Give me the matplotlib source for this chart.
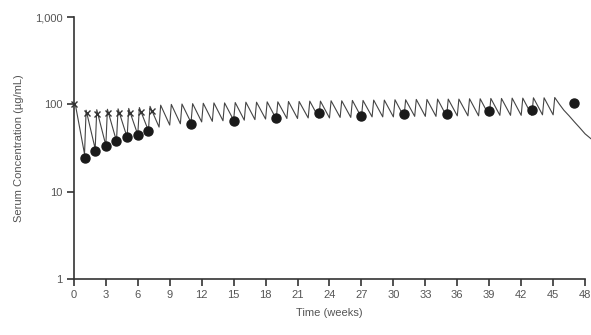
import matplotlib
matplotlib.use("Agg")
import matplotlib.pyplot as plt
from matplotlib.ticker import FixedLocator, NullLocator

# ---- data ----
# simulated curve: trough just before each weekly dose (weeks 1..45)
trough_weeks = list(range(1, 46))
trough_vals = [27, 31, 34, 38, 42, 45, 50,
               55, 58, 60, 62, 63, 64, 65, 66, 66, 67, 68, 68, 69,
               69, 70, 70, 70, 71, 71, 71, 72, 72, 72, 72, 73, 73, 73,
               73, 74, 74, 74, 74, 75, 75, 75, 75, 76, 76]
# simulated peak shortly after each dose (weeks 0..45)
peak_weeks = [w + 0.15 for w in range(0, 46)]
peak_vals = [98, 86, 87, 88, 89, 90, 92, 95,
             98, 100, 101, 102, 103, 104, 104, 105, 106, 106, 107, 107, 108,
             108, 109, 109, 110, 110, 111, 111, 112, 112, 113, 113, 114, 114,
             115, 115, 115, 116, 116, 117, 117, 118, 118, 119, 119, 120]
# wash-out after the last dose
tail_weeks = [45.6, 46.0, 46.5, 47.0, 47.5, 48.0, 48.6]
tail_vals = [100, 86, 74, 63, 54, 46, 40]

# observed troughs (filled circles)
obs_weeks = [1, 2, 3, 4, 5, 6, 7, 11, 15, 19, 23, 27, 31, 35, 39, 43, 47]
obs_vals = [24.5, 29, 33, 38, 42, 44.5, 49, 59, 64, 70, 80, 73, 77, 77, 84, 87, 105]

# observed peaks (x markers)
xpk_weeks = [0, 1.2, 2.2, 3.2, 4.2, 5.3, 6.3, 7.3]
xpk_vals = [100, 80, 78, 79, 79, 80, 82, 84]

x_ticks = list(range(0, 49, 3))
y_ticks = [1, 10, 100, 1000]
y_ticklabels = ["1", "10", "100", "1,000"]

# ---- build the curve from the read vertices ----
curve_t = [peak_weeks[0]]
curve_c = [peak_vals[0]]
for i, w in enumerate(trough_weeks):
    curve_t += [w, peak_weeks[i + 1]]
    curve_c += [trough_vals[i], peak_vals[i + 1]]
curve_t += tail_weeks
curve_c += tail_vals

plt.rcParams['font.family'] = ['Liberation Sans', 'DejaVu Sans']
fig = plt.figure(figsize=(5.91, 3.35), dpi=100)
ax = fig.add_axes([0.125, 0.167, 0.865, 0.782])

tc = "#555555"
ax.plot(curve_t, curve_c, color="#444444", lw=0.8, clip_on=False, zorder=2)
ax.plot(obs_weeks, obs_vals, 'o', color="#1a1a1a", ms=6.5, zorder=3, clip_on=False)
ax.plot(xpk_weeks, xpk_vals, 'x', color="#333333", ms=4.5, mew=1.0, zorder=3, clip_on=False)

ax.set_yscale('log')
ax.set_ylim(1, 1000)
ax.set_xlim(0, 48)
ax.yaxis.set_major_locator(FixedLocator(y_ticks))
ax.yaxis.set_minor_locator(NullLocator())
ax.set_yticklabels(y_ticklabels)
ax.set_xticks(x_ticks)

for s in ['top', 'right']:
    ax.spines[s].set_visible(False)
for s in ['left', 'bottom']:
    ax.spines[s].set_color("#333333")
    ax.spines[s].set_linewidth(1.2)

ax.tick_params(axis='both', direction='out', length=5, width=1.2, color="#333333",
               labelsize=8, labelcolor=tc, pad=3)
ax.set_xlabel("Time (weeks)", fontsize=8, color=tc, labelpad=6)
ax.set_ylabel("Serum Concentration (\u00b5g/mL)", fontsize=8, color=tc, labelpad=8)

fig.savefig("out.png", dpi=100)
